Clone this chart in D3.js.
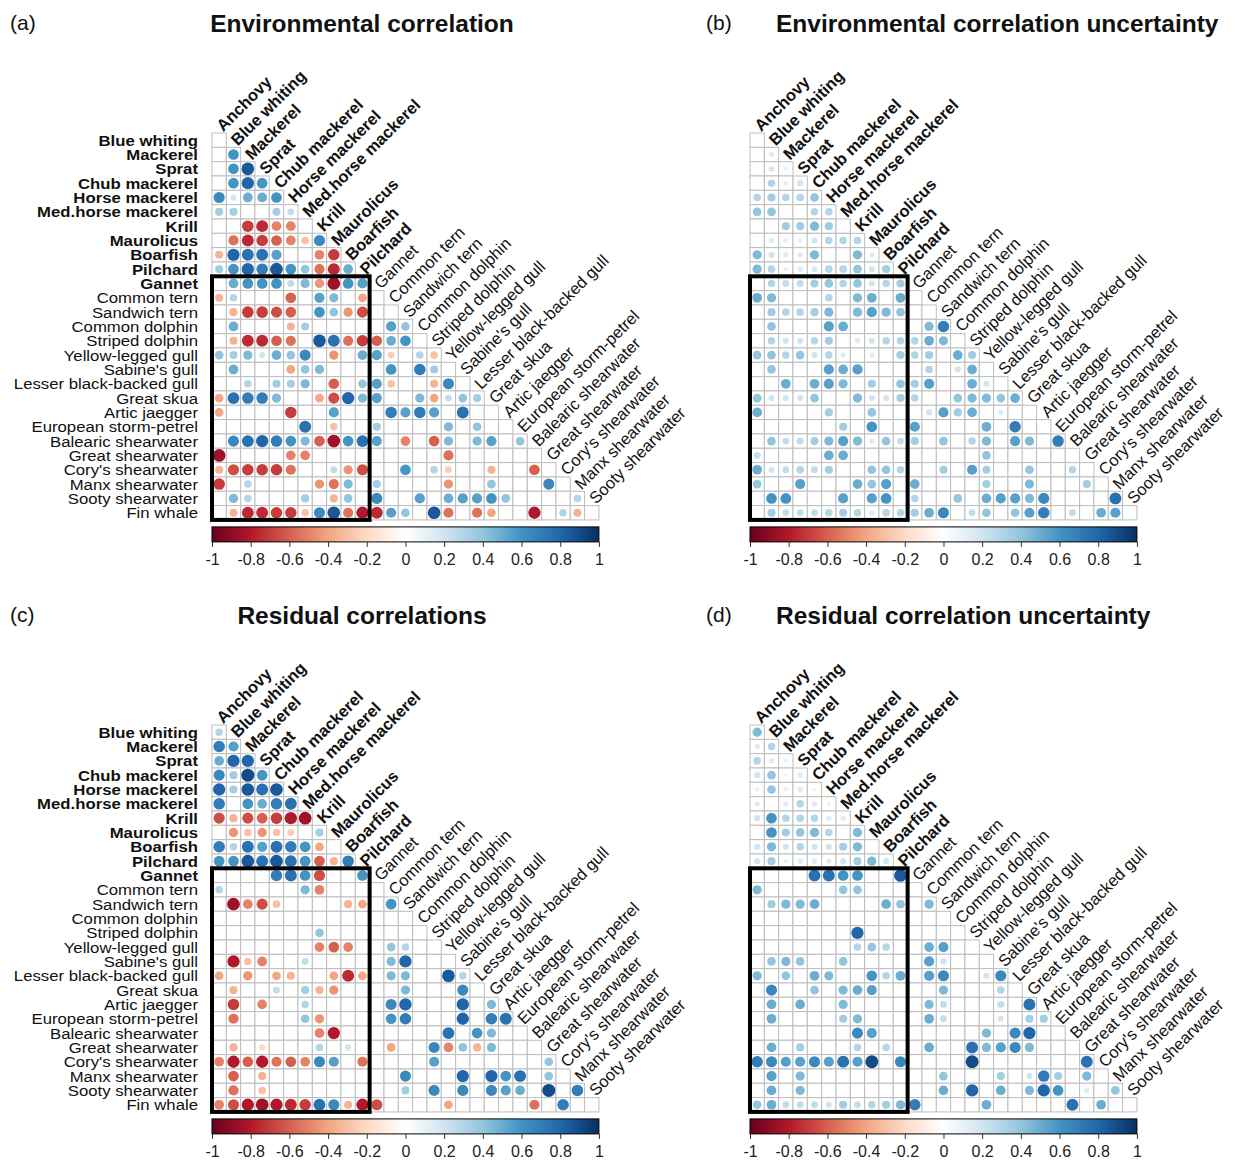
<!DOCTYPE html>
<html>
<head>
<meta charset="utf-8">
<script src="https://cdn.jsdelivr.net/npm/d3@7"></script>
<style>
  body { margin: 0; background: #fff; }
  svg { display: block; font-family: "Liberation Sans", Arial, sans-serif; }
</style>
</head>
<body>
<svg id="chart" width="1235" height="1163"></svg>
<script>
// Species in matrix order
const species = [
  "Anchovy", "Blue whiting", "Mackerel", "Sprat", "Chub mackerel", "Horse mackerel",
  "Med.horse mackerel", "Krill", "Maurolicus", "Boarfish", "Pilchard", "Gannet",
  "Common tern", "Sandwich tern", "Common dolphin", "Striped dolphin", "Yellow-legged gull",
  "Sabine's gull", "Lesser black-backed gull", "Great skua", "Artic jaegger",
  "European storm-petrel", "Balearic shearwater", "Great shearwater", "Cory's shearwater",
  "Manx shearwater", "Sooty shearwater", "Fin whale"
];
const rowLabels = species.slice(1);       // Blue whiting ... Fin whale
const colLabels = species.slice(0, 27);   // Anchovy ... Sooty shearwater
const boldCount = 11;                     // first labels of each axis set in bold

const colorbarTicks = [-1, -0.8, -0.6, -0.4, -0.2, 0, 0.2, 0.4, 0.6, 0.8, 1];
const colorbarTickLabels = ["-1", "-0.8", "-0.6", "-0.4", "-0.2", "0", "0.2", "0.4", "0.6", "0.8", "1"];

const panelTitles = [
  "Environmental correlation", "Environmental correlation uncertainty",
  "Residual correlations", "Residual correlation uncertainty"
];
const panelLetters = ["(a)", "(b)", "(c)", "(d)"];

// Lower-triangle values; row i holds the cells against the first i+1 species (0 = blank)
const envCor = [
  [0],
  [0, 0.6],
  [0, 0.6, 0.85],
  [0, 0.6, 0.8, 0.6],
  [0.65, 0.2, 0.5, 0.5, 0.6],
  [0.35, 0.35, 0, 0, 0.35, 0.25],
  [0, 0, -0.7, -0.75, -0.5, -0.5, 0],
  [0, -0.55, -0.75, -0.7, -0.6, -0.5, -0.3, 0.65],
  [-0.35, 0.8, 0.75, 0.75, 0.55, 0, 0, -0.5, -0.7],
  [0.35, 0.6, 0.8, 0.7, 0.85, 0.6, 0.4, -0.55, -0.75, 0.5],
  [0, 0.5, 0.6, 0.6, 0.6, 0.25, 0.45, -0.45, -0.85, 0.6, 0.55],
  [-0.35, 0.3, 0, 0, 0, -0.6, 0, 0.55, 0.45, 0, -0.4, 0],
  [0, -0.35, -0.7, -0.7, -0.65, -0.6, 0, 0.6, 0.4, -0.45, -0.65, 0, 0],
  [0, 0.5, 0, 0, 0, -0.35, 0.35, 0, 0, 0, 0, 0, 0.55, 0.4],
  [0, -0.35, -0.75, -0.75, -0.6, -0.55, 0, 0.85, 0.75, -0.55, -0.7, -0.6, 0.5, 0.6, 0],
  [0.4, 0.35, 0.45, 0.2, 0.5, 0.4, 0.65, 0, -0.45, 0, 0.5, 0.55, -0.25, 0, 0.3, -0.3],
  [0, 0.5, 0, 0, 0, -0.4, 0.4, 0.45, 0, 0, 0, 0, 0.6, 0, 0.7, 0.35, 0],
  [0, 0, 0.3, 0, 0.35, 0.35, 0.45, 0, -0.6, 0, 0.4, 0.55, -0.3, 0, 0, -0.35, 0.65, 0],
  [-0.4, 0.75, 0.7, 0.7, 0.45, 0, 0, -0.4, -0.65, 0.8, 0.45, 0.55, 0, 0, 0.45, -0.4, 0.25, 0.4, 0.35],
  [-0.4, 0, 0, 0, 0, -0.7, 0, 0, 0.55, 0, 0, 0, 0.7, 0.55, 0.7, 0.55, 0, 0.75, 0, 0],
  [0, 0, 0, 0, 0, 0, 0.75, 0, -0.3, 0, 0, 0.35, 0, 0, 0, 0, 0.45, 0, 0.4, 0, 0],
  [0, 0.65, 0.75, 0.8, 0.7, 0.6, 0.45, -0.6, -0.85, 0.6, 0.75, 0.55, 0, -0.5, 0, -0.6, 0.45, 0, 0.45, 0.55, 0, 0.4],
  [-0.85, 0, 0, 0, 0, -0.5, -0.5, 0, 0, 0, 0, 0, 0, 0, 0, 0, -0.55, 0, 0, 0, 0, 0, 0],
  [-0.35, -0.65, -0.7, -0.7, -0.7, -0.55, 0, 0, 0.25, -0.45, -0.65, 0, 0, 0.6, 0, 0.3, -0.25, 0, 0, -0.35, 0, 0, -0.6, 0],
  [-0.7, 0, 0.3, 0, 0, 0, 0, -0.45, -0.55, 0.45, 0, 0.35, 0, 0, 0, 0, -0.45, 0, 0, 0.4, 0, 0, 0, 0.65, 0],
  [0, 0.45, 0.3, 0, 0, 0, 0.35, 0, -0.35, 0.4, 0, 0.65, 0, 0, 0.55, 0, 0.5, 0.55, 0.55, 0.6, 0.4, 0, 0, 0, 0, 0.3],
  [0, -0.35, -0.75, -0.75, -0.7, -0.7, -0.3, 0.65, 0.85, -0.55, -0.8, -0.75, 0.55, 0.4, 0, 0.85, -0.55, 0, -0.55, -0.4, 0, 0, -0.8, 0, 0.3, -0.35, 0]
];

const envUnc = [
  [0],
  [0, 0.15],
  [0, 0.18, 0.1],
  [0, 0.3, 0.12, 0.2],
  [0.3, 0.35, 0.3, 0.3, 0.4],
  [0.4, 0.4, 0, 0, 0.3, 0.3],
  [0, 0, 0.35, 0.35, 0.45, 0.35, 0],
  [0, 0.15, 0.12, 0.12, 0.2, 0.3, 0.3, 0.3],
  [0.45, 0.2, 0.15, 0.15, 0.45, 0, 0, 0.45, 0.15],
  [0.45, 0.3, 0.1, 0.15, 0.18, 0.3, 0.3, 0.4, 0.2, 0.35],
  [0, 0.3, 0.25, 0.25, 0.35, 0.4, 0.3, 0.4, 0.2, 0.3, 0.35],
  [0.5, 0.45, 0, 0, 0, 0.3, 0, 0.45, 0.5, 0, 0.5, 0],
  [0, 0.35, 0.3, 0.3, 0.35, 0.45, 0, 0.45, 0.55, 0.45, 0.4, 0, 0],
  [0, 0.4, 0, 0, 0, 0.55, 0.5, 0, 0, 0, 0, 0, 0.45, 0.7],
  [0, 0.3, 0.2, 0.2, 0.3, 0.35, 0, 0.15, 0.2, 0.3, 0.3, 0.3, 0.5, 0.45, 0],
  [0.4, 0.4, 0.3, 0.4, 0.2, 0.3, 0.15, 0, 0.15, 0, 0.35, 0.3, 0.35, 0, 0.5, 0.35],
  [0, 0.4, 0, 0, 0, 0.55, 0.5, 0.55, 0, 0, 0, 0, 0.3, 0, 0.2, 0.5, 0],
  [0, 0, 0.5, 0, 0.5, 0.55, 0.45, 0, 0.35, 0, 0.4, 0.35, 0.55, 0, 0, 0.5, 0.2, 0],
  [0.4, 0.2, 0.2, 0.2, 0.4, 0, 0, 0.45, 0.2, 0.2, 0.35, 0.3, 0, 0, 0.4, 0.45, 0.45, 0.4, 0.5],
  [0.5, 0, 0, 0, 0, 0.35, 0, 0, 0.4, 0, 0, 0, 0.2, 0.55, 0.35, 0.5, 0, 0.15, 0, 0],
  [0, 0, 0, 0, 0, 0, 0.35, 0, 0.6, 0, 0, 0.55, 0, 0, 0, 0, 0.5, 0, 0.7, 0, 0],
  [0, 0.4, 0.25, 0.25, 0.35, 0.45, 0.55, 0.45, 0.15, 0.4, 0.25, 0.35, 0, 0.4, 0, 0.3, 0.45, 0, 0.55, 0.45, 0, 0.7],
  [0.25, 0, 0, 0, 0, 0.5, 0.5, 0, 0, 0, 0, 0, 0, 0, 0, 0, 0.4, 0, 0, 0, 0, 0, 0],
  [0.5, 0.2, 0.25, 0.3, 0.25, 0.35, 0, 0, 0.4, 0.4, 0.3, 0, 0, 0.35, 0, 0.55, 0.35, 0, 0, 0.4, 0, 0, 0.3, 0],
  [0.4, 0, 0, 0.55, 0, 0, 0, 0.5, 0.4, 0.55, 0, 0.5, 0, 0, 0, 0, 0.35, 0, 0, 0.45, 0, 0, 0, 0.35, 0],
  [0, 0.6, 0.6, 0, 0, 0, 0.55, 0, 0.55, 0.6, 0, 0.3, 0, 0, 0.4, 0, 0.5, 0.55, 0.55, 0.45, 0.65, 0, 0, 0, 0, 0.75],
  [0, 0.35, 0.25, 0.25, 0.25, 0.3, 0.35, 0.3, 0.15, 0.3, 0.3, 0.35, 0.5, 0.65, 0, 0.25, 0.4, 0, 0.4, 0.55, 0.7, 0, 0.25, 0, 0.5, 0.55, 0]
];

const resCor = [
  [0.3],
  [0.7, 0.55],
  [0.5, 0.8, 0.8],
  [0.65, 0.35, 0.9, 0.6],
  [0.8, 0.35, 0.85, 0.75, 0.85],
  [0.7, 0, 0.6, 0.5, 0.7, 0.75],
  [-0.65, -0.35, -0.65, -0.6, -0.7, -0.8, -0.85],
  [0, -0.45, -0.3, -0.45, -0.3, -0.25, 0, 0.35],
  [0.7, 0.3, 0.75, 0.55, 0.75, 0.7, 0.6, -0.4, 0],
  [0.6, 0.6, 0.85, 0.75, 0.85, 0.75, 0.6, -0.6, -0.35, 0.7],
  [0, 0, 0, 0, 0.7, 0.75, 0.6, -0.65, 0, 0, 0.6],
  [0.3, 0, 0, 0, 0, 0, 0.45, -0.5, 0, 0, 0, 0],
  [0, -0.85, -0.5, -0.65, -0.3, 0, 0, 0, 0, -0.35, -0.4, 0, 0.6],
  [0, 0, 0, 0, 0, 0, 0, 0, 0, 0, 0, 0, 0, 0],
  [0, 0, 0, 0, 0, 0, 0, 0.4, 0, 0, 0, 0, 0, 0, 0],
  [0, 0, 0, 0, 0, 0, 0, -0.5, -0.6, -0.5, 0, 0, 0.4, 0.3, 0, 0],
  [0, -0.8, -0.3, -0.5, 0, 0, 0.25, 0, 0, 0, 0, 0, 0.45, 0.8, 0, 0, 0],
  [-0.4, 0, -0.45, 0, -0.4, -0.35, 0, 0, -0.4, -0.75, -0.4, 0, 0.45, 0.45, 0, 0, 0.85, 0.3],
  [0, -0.35, 0, 0, 0.25, 0, 0.35, -0.35, -0.45, 0, 0, 0, 0, 0.45, 0, 0, 0, 0.65, 0],
  [0, -0.7, 0, -0.5, 0, 0, 0.3, 0, 0, 0, 0, 0, 0.65, 0.8, 0, 0, 0, 0.8, 0, 0.45],
  [0, -0.55, 0, 0, 0, 0, 0.4, -0.45, 0, 0, 0, 0, 0.6, 0.7, 0, 0, 0, 0.8, 0, 0.7, 0.75],
  [0, 0, 0, 0, 0, 0, 0, -0.5, -0.8, 0, 0, 0, 0, 0, 0, 0, 0.75, 0, 0.6, 0.45, 0, 0],
  [0, -0.35, 0, -0.2, 0, 0, 0, 0.3, 0, 0.2, 0, 0, -0.4, 0, 0, 0.65, -0.5, 0.4, -0.35, 0.45, 0, 0, 0],
  [-0.5, -0.8, -0.6, -0.8, -0.55, -0.6, -0.5, 0.65, 0.55, 0, -0.55, 0, 0, 0, 0, 0.55, 0, 0, 0, 0, 0, 0, 0, 0.4],
  [0, -0.6, 0, -0.35, 0, 0, 0, 0, 0, 0, 0, 0, 0, 0.65, 0, 0, 0, 0.8, 0, 0.8, 0.6, 0.75, 0, 0.4, 0],
  [0, -0.55, 0, -0.3, 0, 0, 0, 0, 0, 0, 0, 0, 0, 0.35, 0, 0.65, 0, 0.65, 0, 0.65, 0.55, 0.5, 0, 0.9, 0, 0.7],
  [-0.5, -0.65, -0.8, -0.85, -0.8, -0.75, -0.7, 0.75, 0.65, -0.35, -0.8, -0.65, 0, 0, 0, 0, -0.4, 0, 0, 0, 0, 0, -0.55, 0, 0.7, 0, 0]
];

const resUnc = [
  [0.45],
  [0.15, 0.3],
  [0.3, 0.15, 0.1],
  [0.2, 0.4, 0.08, 0.15],
  [0.1, 0.4, 0.1, 0.15, 0.08],
  [0.15, 0, 0.15, 0.3, 0.15, 0.1],
  [0.2, 0.6, 0.3, 0.3, 0.3, 0.15, 0.15],
  [0, 0.6, 0.35, 0.4, 0.45, 0.3, 0, 0.45],
  [0.2, 0.45, 0.2, 0.3, 0.2, 0.2, 0.35, 0.45, 0],
  [0.2, 0.35, 0.1, 0.15, 0.15, 0.15, 0.2, 0.35, 0.45, 0.2],
  [0, 0, 0, 0, 0.75, 0.75, 0.6, 0.6, 0, 0, 0.85],
  [0.45, 0, 0, 0, 0, 0, 0.4, 0.4, 0, 0, 0, 0],
  [0, 0.35, 0.45, 0.45, 0.5, 0, 0, 0, 0, 0.5, 0.4, 0, 0.45],
  [0, 0, 0, 0, 0, 0, 0, 0, 0, 0, 0, 0, 0, 0],
  [0, 0, 0, 0, 0, 0, 0, 0.8, 0, 0, 0, 0, 0, 0, 0],
  [0, 0, 0, 0, 0, 0, 0, 0.3, 0.4, 0.3, 0, 0, 0.5, 0.55, 0, 0],
  [0, 0.4, 0.45, 0.4, 0, 0, 0.4, 0, 0, 0, 0, 0, 0.55, 0.2, 0, 0, 0],
  [0.45, 0, 0.4, 0, 0.5, 0.45, 0, 0, 0.6, 0.3, 0.5, 0, 0.55, 0.65, 0, 0, 0.2, 0.65],
  [0, 0.65, 0, 0, 0.4, 0, 0.45, 0.5, 0.55, 0, 0, 0, 0, 0.45, 0, 0, 0, 0.3, 0],
  [0, 0.5, 0, 0.5, 0, 0, 0.45, 0, 0, 0, 0, 0, 0.45, 0.25, 0, 0, 0, 0.25, 0, 0.75],
  [0, 0.5, 0, 0, 0, 0, 0.35, 0.45, 0, 0, 0, 0, 0.5, 0.25, 0, 0, 0, 0.2, 0, 0.35, 0.35],
  [0, 0, 0, 0, 0, 0, 0, 0.65, 0.55, 0, 0, 0, 0, 0, 0, 0, 0.45, 0, 0.65, 0.8, 0, 0],
  [0, 0.5, 0, 0.35, 0, 0, 0, 0.3, 0, 0.3, 0, 0, 0.5, 0, 0, 0.75, 0.45, 0.55, 0.65, 0.45, 0, 0, 0],
  [0.7, 0.65, 0.55, 0.55, 0.65, 0.55, 0.75, 0.55, 0.9, 0, 0.65, 0, 0, 0, 0, 0.9, 0, 0, 0, 0, 0, 0, 0, 0.75],
  [0, 0.55, 0, 0.45, 0, 0, 0, 0, 0, 0, 0, 0, 0, 0.4, 0, 0, 0, 0.35, 0, 0.2, 0.7, 0.35, 0, 0.45, 0],
  [0, 0.5, 0, 0.45, 0, 0, 0, 0, 0, 0, 0, 0, 0, 0.5, 0, 0.8, 0, 0.5, 0, 0.45, 0.8, 0.6, 0, 0.15, 0, 0.4],
  [0.4, 0.5, 0.25, 0.25, 0.25, 0.2, 0.35, 0.25, 0.3, 0.35, 0.45, 0.7, 0, 0, 0, 0, 0.5, 0, 0, 0, 0, 0, 0.75, 0, 0.5, 0, 0]
];

// ---- drawing ----
const svg = d3.select("#chart");
const cell = 14.33;
const n = rowLabels.length;           // 27
const gridSize = n * cell;

// RdBu diverging palette used for correlation colouring
const palette = ["#67001F", "#B2182B", "#D6604D", "#F4A582", "#FDDBC7", "#FFFFFF",
                 "#D1E5F0", "#92C5DE", "#4393C3", "#2166AC", "#053061"];
const color = d3.scaleLinear()
  .domain(d3.range(11).map(i => -1 + i * 0.2))
  .range(palette)
  .interpolate(d3.interpolateRgb);
const radius = d3.scaleSqrt().domain([0, 1]).range([0, 0.48 * cell]);

// gradient for the colour bars
const defs = svg.append("defs");
const grad = defs.append("linearGradient").attr("id", "rdbu")
  .attr("x1", "0%").attr("x2", "100%").attr("y1", "0%").attr("y2", "0%");
d3.range(0, 1.0001, 0.02).forEach(t => {
  grad.append("stop").attr("offset", (t * 100) + "%").attr("stop-color", color(-1 + 2 * t));
});

const panels = [
  { data: envCor, x0: 212, y0: 133, title: panelTitles[0], tx: 362, anchor: "middle", letter: panelLetters[0], lx: 10,  rows: true },
  { data: envUnc, x0: 750, y0: 133, title: panelTitles[1], tx: 776, anchor: "start",  letter: panelLetters[1], lx: 706, rows: false },
  { data: resCor, x0: 212, y0: 725, title: panelTitles[2], tx: 362, anchor: "middle", letter: panelLetters[2], lx: 10,  rows: true },
  { data: resUnc, x0: 750, y0: 725, title: panelTitles[3], tx: 776, anchor: "start",  letter: panelLetters[3], lx: 706, rows: false }
];

panels.forEach(p => {
  const g = svg.append("g");
  const x = d3.scaleBand().domain(colLabels).range([p.x0, p.x0 + gridSize]);
  const y = d3.scaleBand().domain(rowLabels).range([p.y0, p.y0 + gridSize]);

  // panel letter and title
  g.append("text").attr("x", p.lx).attr("y", p.y0 - 103)
    .attr("font-size", 21).attr("fill", "#111").text(p.letter);
  g.append("text").attr("x", p.tx).attr("y", p.y0 - 101)
    .attr("text-anchor", p.anchor).attr("font-size", 24.5).attr("font-weight", "bold")
    .attr("fill", "#111").text(p.title);

  // cells of the lower triangle
  const cells = [];
  rowLabels.forEach((rl, i) => {
    for (let j = 0; j <= i; j++) {
      cells.push({ row: rl, col: colLabels[j], v: p.data[i][j] || 0 });
    }
  });

  g.append("g").selectAll("rect").data(cells).join("rect")
    .attr("x", d => x(d.col)).attr("y", d => y(d.row))
    .attr("width", x.bandwidth()).attr("height", y.bandwidth())
    .attr("fill", "#fff").attr("stroke", "#bdbdbd").attr("stroke-width", 1);

  g.append("g").selectAll("circle").data(cells.filter(d => d.v !== 0)).join("circle")
    .attr("cx", d => x(d.col) + x.bandwidth() / 2)
    .attr("cy", d => y(d.row) + y.bandwidth() / 2)
    .attr("r", d => radius(Math.abs(d.v)))
    .attr("fill", d => color(d.v));

  // box around fish columns x non-fish rows
  const fishCols = colLabels.slice(0, 11);
  g.append("rect")
    .attr("x", x(fishCols[0]))
    .attr("y", y("Gannet"))
    .attr("width", x(fishCols[fishCols.length - 1]) + x.bandwidth() - x(fishCols[0]))
    .attr("height", p.y0 + gridSize - y("Gannet"))
    .attr("fill", "none").attr("stroke", "#000").attr("stroke-width", 4);

  // row labels (left-hand panels only)
  if (p.rows) {
    g.append("g").selectAll("text").data(rowLabels).join("text")
      .attr("transform", d => `translate(${p.x0 - 14},${y(d) + y.bandwidth() / 2}) scale(1.08,1)`)
      .attr("dy", "0.36em")
      .attr("text-anchor", "end")
      .attr("font-size", 15.5)
      .attr("font-weight", (d, i) => i < boldCount ? "bold" : "normal")
      .attr("fill", "#111")
      .text(d => d);
  }

  // column labels along the diagonal
  g.append("g").selectAll("text").data(colLabels).join("text")
    .attr("transform", (d, i) => {
      const cx = x(d) + x.bandwidth() / 2;
      const top = y(rowLabels[i]) - 5;
      return `translate(${cx},${top}) rotate(-45)`;
    })
    .attr("dy", "0.36em")
    .attr("font-size", 16.5)
    .attr("font-weight", (d, i) => i < boldCount ? "bold" : "normal")
    .attr("fill", "#111")
    .text(d => d);

  // colour bar
  const barTop = p.y0 + gridSize + 7;
  const barH = 15;
  const bx = d3.scaleLinear().domain([-1, 1]).range([p.x0, p.x0 + gridSize]);
  g.append("rect").attr("x", p.x0).attr("y", barTop)
    .attr("width", gridSize).attr("height", barH)
    .attr("fill", "url(#rdbu)").attr("stroke", "#000").attr("stroke-width", 1);
  const axis = d3.axisBottom(bx).tickValues(colorbarTicks)
    .tickFormat((d, i) => colorbarTickLabels[i]).tickSize(5).tickPadding(7);
  const ax = g.append("g").attr("transform", `translate(0,${barTop + barH})`).call(axis);
  ax.select(".domain").remove();
  ax.selectAll("line").attr("stroke", "#333");
  ax.selectAll("text").attr("font-size", 16).attr("fill", "#222")
    .attr("font-family", "'Liberation Sans', Arial, sans-serif");
});
</script>
</body>
</html>
